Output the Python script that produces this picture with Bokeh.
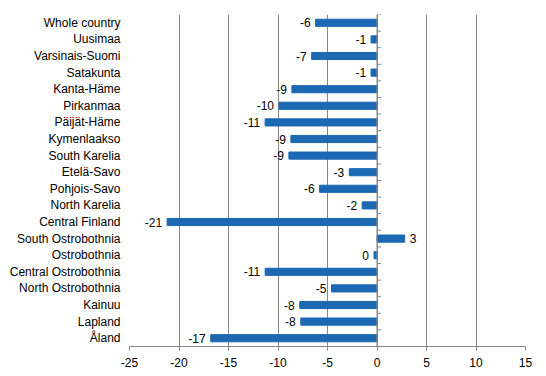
from bokeh.plotting import figure
from bokeh.models import ColumnDataSource, Range1d, FixedTicker
from bokeh.core.properties import value
from bokeh.embed import file_html
from bokeh.resources import INLINE

regions = ["Whole country", "Uusimaa", "Varsinais-Suomi", "Satakunta", "Kanta-Häme",
           "Pirkanmaa", "Päijät-Häme", "Kymenlaakso", "South Karelia", "Etelä-Savo",
           "Pohjois-Savo", "North Karelia", "Central Finland", "South Ostrobothnia",
           "Ostrobothnia", "Central Ostrobothnia", "North Ostrobothnia", "Kainuu",
           "Lapland", "Åland"]
values = [-6.2, -0.6, -6.6, -0.6, -8.6, -9.9, -11.3, -8.7, -8.9, -2.8,
          -5.8, -1.5, -21.2, 2.8, -0.3, -11.3, -4.6, -7.8, -7.7, -16.8]
x_ticks = [-25, -20, -15, -10, -5, 0, 5, 10, 15]

FONT = "Liberation Sans"
FS = "12px"
GRID = "#888888"
BAR = "#1c68b3"

n = len(regions)
ypos = list(range(n))
labels = [str(int(round(v))) for v in values]
src = ColumnDataSource(dict(
    y=ypos, v=values, lab=labels,
    align=["right" if v < 0 else "left" for v in values],
    off=[-5 if v < 0 else 5 for v in values],
))

p = figure(width=546, height=376, output_backend="svg", toolbar_location=None,
           x_range=Range1d(x_ticks[0], x_ticks[-1]),
           y_range=Range1d(n - 0.5, -0.5),
           min_border_left=129, min_border_right=21, min_border_top=14,
           min_border_bottom=30)
p.outline_line_color = None
p.background_fill_color = "white"

p.hbar(y="y", left=0, right="v", height=0.43, color=BAR, source=src)

# zero line with category-boundary ticks
p.segment(x0=0, y0=-0.5, x1=0, y1=n - 0.5, line_color=GRID, line_width=1)
p.ray(x=0, y=[i - 0.5 for i in range(n + 1)], length=4, length_units="screen",
      angle=0, line_color=GRID, line_width=1)

p.text(x="v", y="y", text="lab", x_offset="off", text_align="align",
       text_baseline="middle", text_font=value(FONT), text_font_size=FS,
       text_color="black", source=src)

p.xaxis.ticker = FixedTicker(ticks=x_ticks)
p.xaxis.major_label_overrides = {t: str(t) for t in x_ticks}
p.xaxis.axis_line_color = GRID
p.xaxis.major_tick_line_color = GRID
p.xaxis.major_tick_out = 4
p.xaxis.major_tick_in = 0
p.xaxis.minor_tick_line_color = None
p.xaxis.major_label_text_font = FONT
p.xaxis.major_label_text_font_size = FS
p.xaxis.major_label_text_color = "black"
p.xaxis.major_label_standoff = 7

p.yaxis.ticker = FixedTicker(ticks=ypos)
p.yaxis.major_label_overrides = {i: r for i, r in enumerate(regions)}
p.yaxis.axis_line_color = None
p.yaxis.major_tick_line_color = None
p.yaxis.major_tick_out = 0
p.yaxis.major_tick_in = 0
p.yaxis.minor_tick_line_color = None
p.yaxis.minor_tick_out = 0
p.yaxis.major_label_text_font = FONT
p.yaxis.major_label_text_font_size = FS
p.yaxis.major_label_text_color = "black"
p.yaxis.major_label_standoff = 9

p.xgrid.ticker = FixedTicker(ticks=x_ticks)
p.xgrid.grid_line_color = GRID
p.ygrid.grid_line_color = None

open("out.html", "w").write(file_html(p, INLINE))
